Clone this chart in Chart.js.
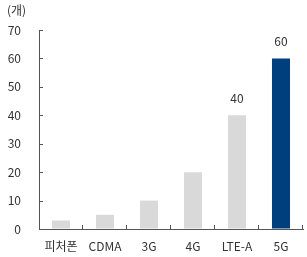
<!DOCTYPE html>
<html><head><meta charset="utf-8">
<script src="https://cdn.jsdelivr.net/npm/chart.js@4.4.0/dist/chart.umd.min.js"></script>
<style>html,body{margin:0;padding:0;background:#fff;}#wrap{width:307px;height:257px;}</style>
</head><body><div id="wrap"><canvas id="c" width="307" height="257"></canvas></div>
<script>
const categories = ['피처폰','CDMA','3G','4G','LTE-A','5G'];
const values = [3, 5, 10, 20, 40, 60];
const barColors = ['#d9d9d9','#d9d9d9','#d9d9d9','#d9d9d9','#d9d9d9','#003f7d'];
const showValue = [false,false,false,false,true,true];
const unitLabel = '(개)';
const yMin = 0, yMax = 70, yStep = 10;

const FONT = "'Noto Sans CJK KR', 'Noto Sans', sans-serif";
const TXT = '#333333';
const AX = '#555555';

const deco = {
  id:'deco',
  afterDraw(chart){
    const ctx = chart.ctx, ca = chart.chartArea;
    const x = chart.scales.x, y = chart.scales.y;
    ctx.save();
    ctx.strokeStyle = AX; ctx.lineWidth = 1;
    // y ticks inward
    for (let v = yMin; v <= yMax; v += yStep) {
      const py = Math.round(y.getPixelForValue(v)) + 0.5;
      ctx.beginPath(); ctx.moveTo(ca.left, py); ctx.lineTo(ca.left + 4, py); ctx.stroke();
    }
    // x ticks inward at category boundaries
    for (let i = 0; i < categories.length; i++) {
      let px;
      if (i < categories.length - 1) px = (x.getPixelForValue(i) + x.getPixelForValue(i+1)) / 2;
      else px = ca.right;
      px = Math.round(px) - 0.5;
      ctx.beginPath(); ctx.moveTo(px, ca.bottom); ctx.lineTo(px, ca.bottom - 4); ctx.stroke();
    }
    // value labels
    ctx.fillStyle = TXT; ctx.font = "12px " + FONT;
    ctx.textAlign = 'center'; ctx.textBaseline = 'bottom';
    const meta = chart.getDatasetMeta(0);
    meta.data.forEach((bar, i) => {
      if (showValue[i]) ctx.fillText(String(values[i]), bar.x, bar.y - 11);
    });
    // unit
    ctx.textAlign = 'left'; ctx.textBaseline = 'middle';
    ctx.fillText(unitLabel, 7, 10);
    ctx.restore();
  }
};

new Chart(document.getElementById('c'), {
  type:'bar',
  data:{ labels:categories, datasets:[{ data:values, backgroundColor:barColors, borderWidth:0,
    categoryPercentage:1.0, barPercentage:0.41 }]},
  options:{
    responsive:false, animation:false, devicePixelRatio:1,
    layout:{ padding:{ top:30, right:4, left:0, bottom:0 } },
    plugins:{ legend:{display:false}, tooltip:{enabled:false} },
    scales:{
      x:{
        grid:{ display:true, drawOnChartArea:false, drawTicks:false, color:'rgba(0,0,0,0)' },
        border:{ display:true, color:AX, width:1 },
        ticks:{ color:TXT, font:{ family:FONT, size:12 }, padding:10, maxRotation:0, autoSkip:false },
        afterFit(s){ s.height = 28; }
      },
      y:{
        min:yMin, max:yMax,
        grid:{ display:true, drawOnChartArea:false, drawTicks:false, color:'rgba(0,0,0,0)' },
        border:{ display:true, color:AX, width:1 },
        ticks:{ stepSize:yStep, color:TXT, font:{ family:FONT, size:12 }, padding:18 },
        afterFit(s){ s.width = 39; }
      }
    }
  },
  plugins:[deco]
});
</script></body></html>
